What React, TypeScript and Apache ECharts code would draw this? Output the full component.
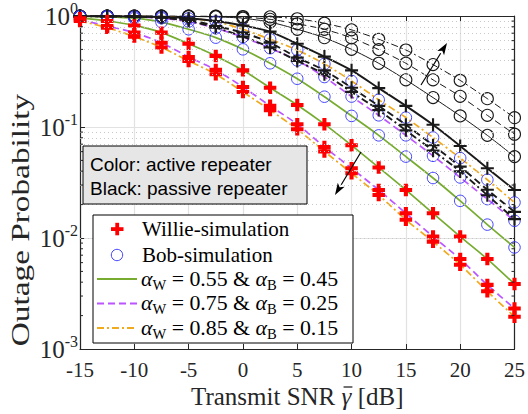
import React, { useEffect, useRef } from "react";
import * as echarts from "echarts";

// ---------------- data ----------------
const snrDb = [-15, -12.5, -10, -7.5, -5, -2.5, 0, 2.5, 5, 7.5, 10, 12.5, 15, 17.5, 20, 22.5, 25];

// Color: active repeater
const willieActive055 = [0.955, 0.902, 0.822, 0.708, 0.562, 0.437, 0.324, 0.226, 0.158, 0.106, 0.0684, 0.0432, 0.0271, 0.0167, 0.0103, 0.00646, 0.00385];
const willieActive075 = [0.923, 0.813, 0.708, 0.575, 0.427, 0.327, 0.229, 0.155, 0.106, 0.0661, 0.0425, 0.0271, 0.0167, 0.0103, 0.00646, 0.00378, 0.00232];
const willieActive085 = [0.902, 0.785, 0.652, 0.521, 0.394, 0.299, 0.207, 0.142, 0.0955, 0.0603, 0.0383, 0.0244, 0.0146, 0.00927, 0.00575, 0.00331, 0.00195];
const bobActive045 = [0.991, 0.982, 0.955, 0.881, 0.759, 0.638, 0.501, 0.375, 0.272, 0.1875, 0.1259, 0.0841, 0.0541, 0.0347, 0.0216, 0.0132, 0.00822];
const bobActive025 = [0.995, 0.991, 0.982, 0.955, 0.891, 0.776, 0.646, 0.513, 0.398, 0.282, 0.188, 0.1274, 0.0841, 0.055, 0.0351, 0.0224, 0.0143];
const bobActive015 = [0.998, 0.995, 0.991, 0.977, 0.951, 0.891, 0.759, 0.617, 0.494, 0.37, 0.26, 0.1758, 0.1216, 0.0804, 0.0525, 0.0335, 0.0209];

// Black: passive repeater
const williePassive055 = [0.998, 0.995, 0.989, 0.977, 0.955, 0.902, 0.822, 0.724, 0.562, 0.431, 0.324, 0.224, 0.155, 0.1047, 0.0675, 0.0425, 0.0271];
const williePassive075 = [0.998, 0.995, 0.991, 0.977, 0.923, 0.813, 0.708, 0.575, 0.422, 0.324, 0.226, 0.155, 0.1047, 0.0684, 0.044, 0.0272, 0.0172];
const williePassive085 = [0.998, 0.993, 0.986, 0.966, 0.902, 0.785, 0.652, 0.521, 0.394, 0.299, 0.207, 0.142, 0.0933, 0.0612, 0.0398, 0.0243, 0.0148];
const bobPassive045 = [0.999, 0.999, 0.998, 0.995, 0.991, 0.982, 0.955, 0.881, 0.759, 0.638, 0.501, 0.375, 0.266, 0.184, 0.1259, 0.0841, 0.0541];
const bobPassive025 = [0.999, 0.999, 0.999, 0.998, 0.995, 0.991, 0.977, 0.933, 0.851, 0.759, 0.635, 0.498, 0.375, 0.266, 0.189, 0.1274, 0.0861];
const bobPassive015 = [0.999, 0.999, 0.999, 0.999, 0.998, 0.995, 0.989, 0.982, 0.944, 0.861, 0.75, 0.617, 0.494, 0.365, 0.263, 0.18, 0.1213];

const alphaW = ["0.55", "0.75", "0.85"];
const alphaB = ["0.45", "0.25", "0.15"];
const legendMarkers = ["Willie-simulation", "Bob-simulation"];
const noteLines = ["Color: active repeater", "Black: passive repeater"];
const yMinorValues = [2, 3, 4, 5, 6, 7, 8, 9].flatMap((m) => [m * 0.001, m * 0.01, m * 0.1]);

// ---------------- styles ----------------
const SERIF = '"Liberation Serif", "Times New Roman", serif';
const SANS = '"Liberation Sans", Arial, sans-serif';
const AXIS = "#262626";
const GREEN = "#77AC30";
const PURPLE = "#BB55FF";
const ORANGE = "#F0AA1E";
const BLUE = "#3030FF";
const RED = "#FF0000";
const BLACK = "#1a1a1a";
const DASH = [7, 4];
const DASHDOT = [7, 3, 2, 3];
const PLUS_THICK = "path://M3.7,0H7.3V3.7H11V7.3H7.3V11H3.7V7.3H0V3.7H3.7Z";
const PLUS_THIN = "path://M4.6,0H6.4V4.6H11V6.4H6.4V11H4.6V6.4H0V4.6H4.6Z";

function pairs(vals: number[]) {
  return snrDb.map((x, i) => [x, vals[i]]);
}

function willieSeries(name: string, vals: number[], color: string, type: any, width: number, plusColor: string, thin: boolean) {
  return {
    type: "line",
    name,
    data: pairs(vals),
    smooth: 0.25,
    showAllSymbol: true,
    symbol: thin ? PLUS_THIN : PLUS_THICK,
    symbolSize: thin ? 13 : 12.5,
    symbolKeepAspect: true,
    lineStyle: { color, width, type },
    itemStyle: { color: plusColor, borderWidth: 0 },
    silent: true,
    z: 4,
  };
}

function bobSeries(name: string, vals: number[], color: string, type: any, width: number, circColor: string, big: boolean) {
  return {
    type: "line",
    name,
    data: pairs(vals),
    smooth: 0.25,
    showAllSymbol: true,
    symbol: "circle",
    symbolSize: big ? 12 : 11.5,
    lineStyle: { color, width, type },
    itemStyle: { color: "rgba(0,0,0,0)", borderColor: circColor, borderWidth: big ? 1.1 : 0.9 },
    silent: true,
    z: 3,
  };
}

function arrow(x1: number, y1: number, x2: number, y2: number) {
  const dx = x2 - x1, dy = y2 - y1;
  const L = Math.hypot(dx, dy);
  const ux = dx / L, uy = dy / L;
  const nx = -uy, ny = ux;
  const hl = 12, hw = 4;
  const bx = x2 - hl * ux, by = y2 - hl * uy;
  return [
    { type: "line", shape: { x1, y1, x2: bx, y2: by }, style: { stroke: "#000", lineWidth: 1.2 }, z: 60, silent: true },
    {
      type: "polygon",
      shape: { points: [[x2, y2], [bx + hw * nx, by + hw * ny], [bx + 3 * ux, by + 3 * uy], [bx - hw * nx, by - hw * ny]] },
      style: { fill: "#000" },
      z: 60,
      silent: true,
    },
  ];
}

function measure(text: string, font: string) {
  const c = document.createElement("canvas").getContext("2d")!;
  c.font = font;
  return c.measureText(text).width;
}

export default function App() {
  const ref = useRef<HTMLDivElement>(null);

  useEffect(() => {
    const el = ref.current!;
    const chart = echarts.init(el, null, { renderer: "svg" });

    const series: any[] = [
      {
        type: "line",
        name: "minor-grid",
        data: [],
        silent: true,
        z: 1,
        markLine: {
          silent: true,
          symbol: "none",
          label: { show: false },
          lineStyle: { color: "#c9c9c9", type: [1, 3], width: 1 },
          data: yMinorValues.map((v) => ({ yAxis: v })),
        },
      },
      bobSeries("Bob passive dash-dot", bobPassive015, BLACK, DASHDOT, 1, BLACK, true),
      bobSeries("Bob passive dashed", bobPassive025, BLACK, DASH, 1, BLACK, true),
      bobSeries("Bob passive solid", bobPassive045, BLACK, "solid", 1, BLACK, true),
      willieSeries("Willie passive solid", williePassive055, BLACK, "solid", 1.9, BLACK, true),
      willieSeries("Willie passive dashed", williePassive075, BLACK, DASH, 1.9, BLACK, true),
      willieSeries("Willie passive dash-dot", williePassive085, BLACK, DASHDOT, 1.9, BLACK, true),
      bobSeries("Bob active 0.15", bobActive015, ORANGE, DASHDOT, 1.7, BLUE, false),
      bobSeries("Bob active 0.25", bobActive025, PURPLE, DASH, 1.7, BLUE, false),
      bobSeries("Bob active 0.45", bobActive045, GREEN, "solid", 1.7, BLUE, false),
      willieSeries("Willie active 0.55", willieActive055, GREEN, "solid", 1.7, RED, false),
      willieSeries("Willie active 0.75", willieActive075, PURPLE, DASH, 1.7, RED, false),
      willieSeries("Willie active 0.85", willieActive085, ORANGE, DASHDOT, 1.7, RED, false),
    ];

    const axisLine = { show: true, onZero: false, lineStyle: { color: AXIS, width: 1.2 } };
    const axisTick = { show: true, inside: true, length: 5, lineStyle: { color: AXIS } };

    const option: any = {
      animation: false,
      backgroundColor: "#ffffff",
      grid: { left: 80, right: 9, top: 16, bottom: 65, containLabel: false },
      xAxis: [
        {
          type: "value",
          min: -15,
          max: 25,
          interval: 5,
          position: "bottom",
          axisLine,
          axisTick,
          axisLabel: { color: AXIS, fontFamily: SERIF, fontSize: 21, margin: 10 },
          splitLine: { show: true, lineStyle: { color: "#e2e2e2", width: 1.2 } },
        },
        {
          type: "value",
          min: -15,
          max: 25,
          interval: 5,
          position: "top",
          axisLine,
          axisTick,
          axisLabel: { show: false },
          splitLine: { show: false },
        },
      ],
      yAxis: [
        {
          type: "log",
          logBase: 10,
          min: 0.001,
          max: 1,
          interval: 1,
          position: "left",
          axisLine,
          axisTick,
          splitLine: { show: true, lineStyle: { color: "#e2e2e2", width: 1.2 } },
          axisLabel: {
            margin: 2,
            formatter: (v: number) => `{b|10}{s|${Math.round(Math.log10(v))}}`,
            rich: {
              b: { fontFamily: SERIF, fontSize: 25, color: AXIS, lineHeight: 32 },
              s: { fontFamily: SERIF, fontSize: 16, color: AXIS, lineHeight: 16, verticalAlign: "top" },
            },
          },
        },
        {
          type: "log",
          logBase: 10,
          min: 0.001,
          max: 1,
          interval: 1,
          position: "right",
          axisLine,
          axisTick,
          axisLabel: { show: false },
          splitLine: { show: false },
        },
      ],
      series,
    };

    chart.setOption(option);

    const yPix = (v: number) => chart.convertToPixel({ yAxisIndex: 0 }, v) as number;
    const xPix = (v: number) => chart.convertToPixel({ xAxisIndex: 0 }, v) as number;
    const xl = xPix(snrDb[0]);
    const xr = xPix(snrDb[snrDb.length - 1]);

    const g: any[] = [];
    yMinorValues.forEach((v) => {
      const y = yPix(v);
      g.push({ type: "line", shape: { x1: xl, y1: y, x2: xl + 3, y2: y }, style: { stroke: AXIS, lineWidth: 1 }, z: 50, silent: true });
      g.push({ type: "line", shape: { x1: xr - 3, y1: y, x2: xr, y2: y }, style: { stroke: AXIS, lineWidth: 1 }, z: 50, silent: true });
    });

    // y-axis title
    g.push({
      type: "text",
      x: 20,
      y: 220,
      rotation: Math.PI / 2,
      scaleX: 1.28,
      z: 60,
      silent: true,
      style: {
        text: "Outage Probability",
        fontFamily: SERIF,
        fontSize: 26,
        fill: AXIS,
        textAlign: "center",
        textVerticalAlign: "middle",
      },
    });

    // x-axis title: "Transmit SNR γ̄ [dB]"
    const tSize = 25;
    const fontN = `${tSize}px "Liberation Serif"`;
    const fontI = `italic ${tSize}px "Liberation Serif"`;
    const p1 = "Transmit SNR ";
    const p2 = "γ";
    const p3 = " [dB]";
    const w1 = measure(p1, fontN), w2 = measure(p2, fontI), w3 = measure(p3, fontN);
    const cx = (xl + xr) / 2;
    const tx0 = cx - (w1 + w2 + w3) / 2;
    const ty = 396;
    const tStyle = (text: string, italic: boolean) => ({
      text,
      fontFamily: SERIF,
      fontSize: tSize,
      fontStyle: italic ? "italic" : "normal",
      fill: AXIS,
      textAlign: "left",
      textVerticalAlign: "middle",
    });
    g.push({ type: "text", x: tx0, y: ty, z: 60, silent: true, style: tStyle(p1, false) });
    g.push({ type: "text", x: tx0 + w1, y: ty, z: 60, silent: true, style: tStyle(p2, true) });
    g.push({ type: "text", x: tx0 + w1 + w2, y: ty, z: 60, silent: true, style: tStyle(p3, false) });
    g.push({
      type: "line",
      shape: { x1: tx0 + w1 + 2, y1: ty - 9, x2: tx0 + w1 + w2 + 1, y2: ty - 9 },
      style: { stroke: AXIS, lineWidth: 1.3 },
      z: 60,
      silent: true,
    });

    // note box
    g.push({ type: "rect", shape: { x: 83, y: 146, width: 224, height: 58 }, style: { fill: "#e6e6e6", stroke: "#000", lineWidth: 1 }, z: 70, silent: true });
    noteLines.forEach((t, i) => {
      g.push({
        type: "text",
        x: 90,
        y: 164 + i * 24,
        z: 71,
        silent: true,
        style: { text: t, fontFamily: SANS, fontSize: 19, fill: "#000", textAlign: "left", textVerticalAlign: "middle" },
      });
    });

    // legend box
    g.push({ type: "rect", shape: { x: 93, y: 215, width: 260, height: 128 }, style: { fill: "#fff", stroke: "#000", lineWidth: 1 }, z: 70, silent: true });
    g.push({ type: "rect", shape: { x: 111, y: 227.2, width: 12.5, height: 3.8 }, style: { fill: RED }, z: 71, silent: true });
    g.push({ type: "rect", shape: { x: 115.3, y: 222.8, width: 3.8, height: 12.5 }, style: { fill: RED }, z: 71, silent: true });
    g.push({ type: "circle", shape: { cx: 117, cy: 255, r: 5.7 }, style: { fill: "none", stroke: BLUE, lineWidth: 0.9 }, z: 71, silent: true });
    legendMarkers.forEach((t, i) => {
      g.push({
        type: "text",
        x: 142,
        y: 229 + i * 26,
        z: 71,
        silent: true,
        style: { text: t, fontFamily: SERIF, fontSize: 21, fill: "#000", textAlign: "left", textVerticalAlign: "middle" },
      });
    });
    const legendLineColors = [GREEN, PURPLE, ORANGE];
    const legendDashes: any[] = [null, DASH, DASHDOT];
    alphaW.forEach((aw, i) => {
      const y = 279 + i * 24.5;
      g.push({
        type: "line",
        shape: { x1: 97, y1: y, x2: 137, y2: y },
        style: { stroke: legendLineColors[i], lineWidth: 1.8, lineDash: legendDashes[i] || undefined },
        z: 71,
        silent: true,
      });
      g.push({
        type: "text",
        x: 141,
        y,
        scaleX: 1.04,
        z: 71,
        silent: true,
        style: {
          text: `{a|α}{w|W}{t| = ${aw} & }{a|α}{w|B}{t| = ${alphaB[i]}}`,
          textAlign: "left",
          textVerticalAlign: "middle",
          rich: {
            a: { fontFamily: SERIF, fontSize: 21, fontStyle: "italic", fill: "#000", lineHeight: 26 },
            t: { fontFamily: SERIF, fontSize: 21, fill: "#000", lineHeight: 26 },
            w: { fontFamily: SERIF, fontSize: 14, fill: "#000", lineHeight: 16, verticalAlign: "bottom" },
          },
        },
      });
    });

    // arrows
    g.push(...arrow(421, 85, 447, 43));
    g.push(...arrow(361, 152, 335, 195));

    chart.setOption({ graphic: g });

    return () => {
      chart.dispose();
    };
  }, []);

  return (
    <div
      ref={ref}
      style={{ position: "fixed", left: 0, top: 0, width: 528, height: 414, background: "#fff" }}
    />
  );
}
